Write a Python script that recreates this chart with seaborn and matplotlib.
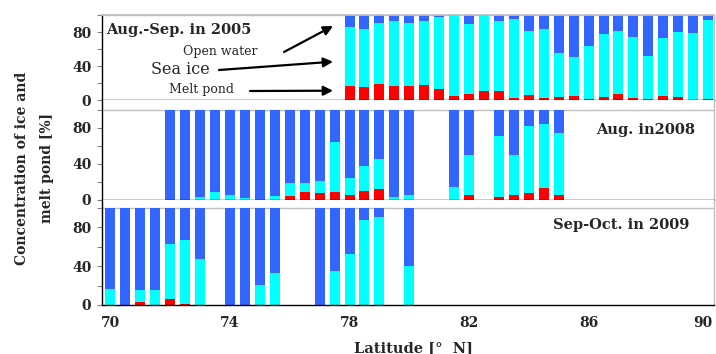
import numpy as np
import pandas as pd
import matplotlib
matplotlib.use("Agg")
import matplotlib.pyplot as plt
from matplotlib.transforms import ScaledTranslation
import seaborn as sns

# ---------------- data ----------------
lat_2005 = [78.0, 78.5, 79.0, 79.5, 80.0, 80.5, 81.0, 81.5, 82.0, 82.5, 83.0, 83.5,
            84.0, 84.5, 85.0, 85.5, 86.0, 86.5, 87.0, 87.5, 88.0, 88.5, 89.0, 89.5, 90.0]
pond_2005 = [16.5, 15.3, 18.8, 16.5, 16.5, 18.4, 12.9, 5.1, 7.5, 11.0, 11.0, 2.7,
             6.3, 3.1, 3.5, 5.1, 1.6, 4.3, 7.1, 3.1, 1.6, 4.7, 3.9, 0.4, 1.6]
ice_2005 = [69.0, 68.2, 71.4, 76.8, 73.7, 74.5, 85.1, 94.1, 81.9, 87.8, 81.9, 92.2,
            74.5, 80.4, 52.2, 45.9, 61.9, 73.7, 74.5, 71.4, 50.2, 68.6, 76.1, 78.4, 92.9]
water_2005 = [14.5, 16.5, 9.8, 6.7, 9.8, 7.1, 2.0, 0.8, 10.6, 1.2, 7.1, 5.1,
              19.2, 16.5, 44.3, 49.0, 36.5, 22.0, 18.4, 25.5, 48.2, 26.7, 20.0, 21.2, 5.5]

lat_2008 = [72.0, 72.5, 73.0, 73.5, 74.0, 74.5, 75.0, 75.5, 76.0, 76.5, 77.0, 77.5,
            78.0, 78.5, 79.0, 79.5, 80.0, 81.5, 82.0, 83.0, 83.5, 84.0, 84.5, 85.0]
pond_2008 = [0, 0, 0, 0, 0, 0, 0, 0, 3.8, 8.6, 7.1, 8.6,
             4.9, 9.4, 12.0, 0, 0, 0, 5.3, 3.0, 4.9, 7.5, 13.2, 4.9]
ice_2008 = [0, 0, 2.3, 8.3, 5.3, 1.5, 0, 3.8, 14.6, 9.8, 13.6, 56.1,
            19.1, 28.2, 32.7, 2.3, 4.9, 13.5, 44.7, 68.4, 45.1, 74.5, 71.0, 69.9]
water_2008 = [100, 100, 97.7, 91.7, 94.7, 98.5, 100, 96.2, 81.6, 81.6, 79.3, 35.3,
              76.0, 62.4, 55.3, 97.7, 95.1, 86.5, 50.0, 28.6, 50.0, 18.0, 15.8, 25.2]

lat_2009 = [70.0, 70.5, 71.0, 71.5, 72.0, 72.5, 73.0, 74.0, 74.5, 75.0, 75.5,
            77.0, 77.5, 78.0, 78.5, 79.0, 80.0]
pond_2009 = [0, 0, 3.1, 0, 6.2, 1.0, 0, 0, 0, 0, 0,
             0, 0, 0, 0, 0, 0]
ice_2009 = [16.2, 0, 12.8, 15.9, 56.2, 65.9, 47.2, 0, 0, 21.0, 33.1,
            0, 34.8, 52.8, 87.2, 91.0, 40.7]
water_2009 = [83.8, 100, 84.1, 84.1, 37.6, 33.1, 52.8, 100, 100, 79.0, 66.9,
              100, 65.2, 47.2, 12.8, 9.0, 59.3]

panel_titles = ["Aug.-Sep. in 2005", "Aug. in2008", "Sep-Oct. in 2009"]
x_ticks = [70, 74, 78, 82, 86, 90]
y_major = [0, 40, 80]
y_minor = [20, 60, 100]

# ---------------- styling ----------------
sns.set_theme(style="white")
plt.rcParams['font.family'] = ['DejaVu Serif', 'DejaVu Sans']

W, H = 716, 354
fig = plt.figure(figsize=(W / 100, H / 100), dpi=100)

def fx(px):
    return px / W

def fy(py):
    return 1 - py / H

def px_axes(left, top, right, bottom):
    return fig.add_axes([fx(left), fy(bottom), (right - left) / W, (bottom - top) / H])

BLUE = "#3366ff"
CYAN = "#00ffff"
RED = "#ff0000"
GREY = "#c0c0c0"

LEFT, RIGHT = 102, 713.5
# (top px, bottom px, y max)
geom = [(15, 100.3, 100.0), (100.3, 199.5, 110.8), (199.5, 305, 108.8)]
data = [(lat_2005, pond_2005, ice_2005, water_2005),
        (lat_2008, pond_2008, ice_2008, water_2008),
        (lat_2009, pond_2009, ice_2009, water_2009)]

axes = []
for i, ((top, bot, ymax), (lat, pond, ice, water)) in enumerate(zip(geom, data)):
    ax = px_axes(LEFT, top, RIGHT, bot)
    axes.append(ax)
    df = pd.DataFrame({"lat": lat, "pond": pond, "ice": ice, "water": water})
    df["total"] = df["pond"] + df["ice"] + df["water"]
    df["ice_top"] = df["pond"] + df["ice"]
    for col, c in [("total", BLUE), ("ice_top", CYAN), ("pond", RED)]:
        sns.barplot(data=df, x="lat", y=col, native_scale=True, width=0.67,
                    color=c, saturation=1, errorbar=None, orient="x",
                    linewidth=0, ax=ax)
    ax.set_xlim(69.716, 90.18)
    ax.set_ylim(0, ymax)
    ax.set_xlabel("")
    ax.set_ylabel("")
    ax.axhline(100, color=GREY, lw=1.0, zorder=0.5)

    for s in ["left", "bottom"]:
        ax.spines[s].set_color("black")
        ax.spines[s].set_linewidth(1.0)
    ax.spines["right"].set_color(GREY)
    ax.spines["right"].set_linewidth(1.0)
    ax.spines["top"].set_visible(i == 0)
    ax.spines["top"].set_color(GREY)

    ax.set_yticks(y_major)
    ax.set_yticklabels([str(v) for v in y_major], fontweight="bold", fontsize=10)
    ax.set_yticks(y_minor, minor=True)
    ax.tick_params(axis="y", which="both", left=True, direction="out",
                   length=3.6, width=0.8, color="#808080", pad=4)
    ax.set_xticks(x_ticks)
    ax.tick_params(axis="x", which="both", bottom=False, length=0, pad=8)
    if i < 2:
        ax.set_xticklabels([])
    else:
        ax.set_xticklabels([str(v) for v in x_ticks], fontweight="bold", fontsize=10)
        # nudge the rightmost label slightly inside, as in the reference
        lab = ax.get_xticklabels()[-1]
        lab.set_transform(lab.get_transform() +
                          ScaledTranslation(-4 / 72, 0, fig.dpi_scale_trans))
    ax.grid(False)
    ax.set_facecolor("white")

# panel titles
fig.text(fx(106), fy(30), panel_titles[0], ha="left", va="center",
         fontweight="bold", fontsize=10.5)
fig.text(fx(646), fy(130), panel_titles[1], ha="center", va="center",
         fontweight="bold", fontsize=10.5)
fig.text(fx(621), fy(225), panel_titles[2], ha="center", va="center",
         fontweight="bold", fontsize=10.5)

# legend-like annotations with arrows
fig.text(fx(220), fy(51.5), "Open water", ha="center", va="center", fontsize=9)
fig.text(fx(180), fy(70), "Sea ice", ha="center", va="center", fontsize=11.5)
fig.text(fx(201.5), fy(90), "Melt pond", ha="center", va="center", fontsize=9)

arrow_kw = dict(arrowstyle="-|>", color="black", lw=1.6, mutation_scale=14,
                shrinkA=0, shrinkB=0)
for (x0, y0), (x1, y1) in [((284, 52), (333, 26)),
                           ((219, 70), (333, 61.7)),
                           ((250, 91), (333, 90.7))]:
    fig.add_artist(matplotlib.patches.FancyArrowPatch(
        (fx(x0), fy(y0)), (fx(x1), fy(y1)), transform=fig.transFigure, **arrow_kw))

# axis labels
fig.text(fx(413), fy(348), "Latitude [°  N]", ha="center", va="center",
         fontweight="bold", fontsize=10.5)
fig.text(fx(35), fy(168), "Concentration of ice and\nmelt pond [%]", ha="center",
         va="center", rotation=90, multialignment="center", linespacing=2.0,
         fontweight="bold", fontsize=10)

fig.savefig("out.png", dpi=100, facecolor="white")
